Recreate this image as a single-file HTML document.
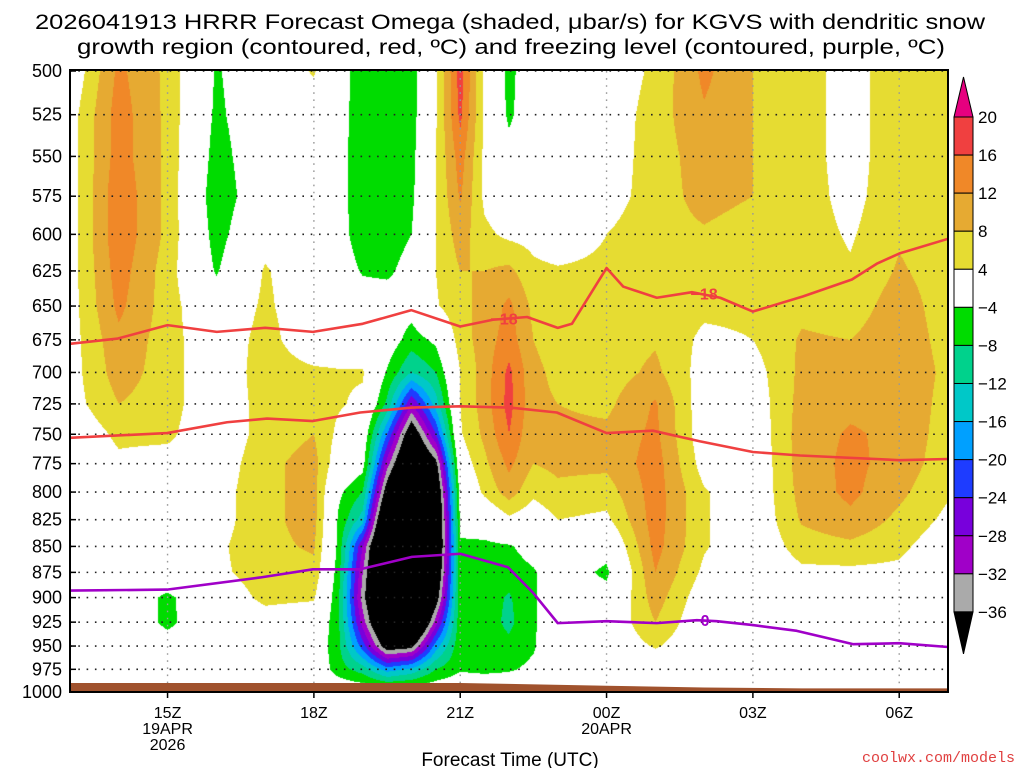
<!DOCTYPE html>
<html><head><meta charset="utf-8"><style>
html,body{margin:0;padding:0;background:#fff;}
#wrap{position:relative;width:1024px;height:768px;overflow:hidden;font-family:"Liberation Sans",sans-serif;}
#cv{position:absolute;left:70px;top:70px;}
#ov{position:absolute;left:0;top:0;}
</style></head><body>
<div id="wrap">
<canvas id="cv" width="878" height="622"></canvas>
<svg id="ov" width="1024" height="768" xmlns="http://www.w3.org/2000/svg">
<g font-family="Liberation Sans, sans-serif" font-size="21" fill="#000">
<text x="510" y="29" text-anchor="middle" textLength="950" lengthAdjust="spacingAndGlyphs">2026041913 HRRR Forecast Omega (shaded, μbar/s) for KGVS with dendritic snow</text>
<text x="511" y="54" text-anchor="middle" textLength="868" lengthAdjust="spacingAndGlyphs">growth region (contoured, red, ºC) and freezing level (contoured, purple, ºC)</text>
</g>
<g id="grid"></g>
<g id="ground"></g>
<g id="lines"></g>
<rect x="70" y="70" width="878" height="622" fill="none" stroke="#000" stroke-width="2"/>
<g id="yaxis" font-size="18" fill="#000"></g>
<g id="xaxis" font-size="16" fill="#000"></g>
<text x="510" y="766" text-anchor="middle" font-size="19">Forecast Time (UTC)</text>
<text x="1015" y="762" text-anchor="end" font-size="15" fill="#e04040" font-family="Liberation Mono, monospace">coolwx.com/models</text>
<g id="cbar" font-size="17"></g>
</svg>
</div>
<script>
// ---- data ----
const levels=[500,525,550,575,600,625,650,675,700,725,750,775,800,825,850,875,900,925,950,975,1000];
const times=[13,14,15,16,17,18,18.5,19,19.5,20,20.5,21,21.5,22,22.5,23,24,25,26,27,28,29,30,31];
const c13=[0,2,2,2,2,2,2,2,2,2,0,0,0,0,0,0,0,0,0,0,0];
const c14=[13,14,14,15,15,14,13,11,10,8,5,3,1,0,0,0,0,0,0,0,0];
const c15=[7,7,7,7,7,6,6,6,6,6,5,2,0,0,0,0,-5,-5,-2,0,0];
const c16=[-4.5,-5,-6,-7,-6,-4.5,-1,0,0,0,0,1,2,2,3,3,1,0,0,0,0];
const c17=[0,0,0,0,2,4.5,5,6,6.5,6,6,7,7,7,7,6,5,2,0,0,0];
const c18=[4.5,1,0,0,0,0,0,0,5,6,8,9.5,9.5,9.5,8.5,7,4.5,1,0,0,0];
const c18h=[-2,-2,-2,-2,-2,-1,0,0,4.5,4.5,3,1,-3,-4.5,-5,-6,-7,-7,-7,-6,0];
const c19=[-6,-6.5,-7,-7,-6.5,-4.5,-1,0,4.5,3,0,-2,-8,-14,-28,-32,-34,-30,-22,-10,0];
const c19h=[-6,-6.5,-7,-7,-6.5,-5,-1,-1,-4.5,-9,-20,-30,-40,-50,-55,-55,-55,-50,-40,-18,0];
const c20=[-6,-6,-5.5,-5,-4,-2,-2,-6,-12,-28,-42,-50,-60,-65,-65,-65,-60,-55,-38,-15,0];
const c20h=[3,3.5,4,4,4,4,3.5,-3,-8,-14,-24,-38,-45,-48,-48,-45,-40,-30,-18,-8,0];
const c21=[18,17,14,12.5,10,8,7,6,4,4,3.5,1,-2,-3,-4.5,-5,-5,-5,-5,-4.5,0];
const c21h=[3,3,3,3,5,8,9,10,10,10,9,7,5,-1,-5,-6,-6,-6,-6,-5,0];
const c22=[-5.5,-5,-2,0,3,9,13,14,17,17.5,16,13,10,3,-4.5,-6,-8.5,-9,-7,-4.5,0];
const c22h=[0,0,0,0.5,2.5,5,7,8,9,9,8.5,8,5,1,-2,-4.5,-4.5,-4.5,-4.5,-3,0];
const c23=[0,0,0,0,1,4.5,6,6,7,8,9,9,7,4,0,-1,-1,-1,0,0,0];
const c24=[0.5,1,1.5,2,4,5,6,6,6,7,9,9,6,3,-2,-5,-2,0,0,0,0];
const c25=[5,6,6,6,6.5,7,7,7.5,9,12.5,13,14,14,14,13.5,12,10,8,4.5,0,0];
const c26=[13,11.5,10,9.5,7.5,6,5,3,2,1,1,2,4.5,4.5,4.5,3,1,0,0,0,0];
const c27=[8,8,8,8,6,6,5,4,2,1,0.5,0,0,0,0,0,0,0,0,0,0];
const c28=[6,6,6,6,6,6,7,8.5,9,9.5,10,10,9.5,8.5,6,3,0,0,0,0,0];
const c29=[2,2,2,2.5,3.5,4.5,6,8,10,11,12.5,13,13,11,7,3,0,0,0,0,0];
const c30=[7,7,7,7,7.5,8.5,10,10.5,11,11,11,10.5,9,7,5,3,0,0,0,0,0];
const c31=[5,5,5,5,5.5,6,6,6.5,7,6.5,6,5.5,4.5,3,1,0,0,0,0,0,0];
const omegaCols=[c13,c14,c15,c16,c17,c18,c18h,c19,c19h,c20,c20h,c21,c21h,c22,c22h,c23,c24,c25,c26,c27,c28,c29,c30,c31];
const cbLevels=[20,16,12,8,4,-4,-8,-12,-16,-20,-24,-28,-32,-36];
const dgzUpperT=[13,13.98,15,16.01,17,17.98,19,20,21,21.67,22.37,23,23.29,24,24.34,25.03,25.75,26.33,27,28.03,29.03,29.54,30,31];
const dgzUpperP=[678,674,664,669,666,669,663,653,665,660,658,666,663,623,636,644,640,644,654,643,631,620,613,603];
const dgzLowerT=[13,14.99,16.22,17.04,17.98,18.95,20.01,21,22.02,22.98,24,24.95,25.92,27,27.97,30,31];
const dgzLowerP=[753,749,740,737,739,732,728,727,728,732,749,747,756,765,768,772,771];
const frzT=[13,14.99,16.9,17.98,18.95,20.01,21,21.98,22.49,23,24,25.03,25.85,26.26,27,27.9,29.05,30,31];
const frzP=[893,892,880,872,872,860,857,870,895,926,924,926,923,924,928,934,948,947,951];
const sfcT=[13,21,22,24,26,28,31];
const sfcP=[990,990,991,993,995,996,996];
const yTicks=[500,525,550,575,600,625,650,675,700,725,750,775,800,825,850,875,900,925,950,975,1000];
const xTickHours=[15,18,21,24,27,30];
const xTickLabels=["15Z","18Z","21Z","00Z","03Z","06Z"];
const xDateLabels={15:["19APR","2026"],24:["20APR"]};

// ---- axes ----
const X0=70,X1=948,Y0=71,Y1=692;
function xOf(h){return X0+(h-13)*(X1-X0)/18;}
function yOf(p){return Y0+(Y1-Y0)*Math.log2(p/500);}
const NS="http://www.w3.org/2000/svg";
function mk(tag,attrs,parent){const e=document.createElementNS(NS,tag);for(const k in attrs)e.setAttribute(k,attrs[k]);parent.appendChild(e);return e;}

const binColors=["#e6007f","#f04040","#f08828","#e6aa32","#e6dc32","#ffffff","#00dc00","#00d28c","#00c8c8","#00a0ff","#1e3cff","#7800dc","#a000c8","#aaaaaa","#000000"];
function colorIdx(v){for(let i=0;i<cbLevels.length;i++){if(v>=cbLevels[i])return i;}return cbLevels.length;}
function hex2rgb(h){return [parseInt(h.substr(1,2),16),parseInt(h.substr(3,2),16),parseInt(h.substr(5,2),16)];}
const rgbs=binColors.map(hex2rgb);

// ---- shading ----
(function(){
const cv=document.getElementById('cv');const ctx=cv.getContext('2d');
const W=cv.width,H=cv.height;const img=ctx.createImageData(W,H);
const lnL=levels.map(Math.log);
for(let py=0;py<H;py++){
  const y=70+py+0.5;const p=500*Math.pow(2,(y-Y0)/(Y1-Y0));const lp=Math.log(Math.min(1000,Math.max(500,p)));
  let i=0;while(i<levels.length-2&&lp>lnL[i+1])i++;
  const ty=Math.min(1,Math.max(0,(lp-lnL[i])/(lnL[i+1]-lnL[i])));
  for(let px=0;px<W;px++){
    const h=13+(px+0.5)*18/W;
    let j=0;while(j<times.length-2&&h>times[j+1])j++;
    const tx=Math.min(1,Math.max(0,(h-times[j])/(times[j+1]-times[j])));
    const a=omegaCols[j],b=omegaCols[j+1];
    const v=(a[i]*(1-tx)+b[i]*tx)*(1-ty)+(a[i+1]*(1-tx)+b[i+1]*tx)*ty;
    const c=rgbs[colorIdx(v)];const k=(py*W+px)*4;
    img.data[k]=c[0];img.data[k+1]=c[1];img.data[k+2]=c[2];img.data[k+3]=255;
  }
}
ctx.putImageData(img,0,0);
})();

// ---- grid ----
const grid=document.getElementById('grid');
yTicks.forEach(p=>{const l=mk('line',{x1:X0,x2:X1,y1:yOf(p),y2:yOf(p),stroke:'#222','stroke-width':1.6,'stroke-dasharray':'1.6,6.7'},grid);

});
xTickHours.forEach(h=>{const l=mk('line',{x1:xOf(h),x2:xOf(h),y1:Y0,y2:Y1,stroke:'#999','stroke-width':1.4,'stroke-dasharray':'1.6,5.5'},grid);

});

// ---- ground ----
(function(){
const g=document.getElementById('ground');
let d='M'+xOf(sfcT[0])+','+Y1;
sfcT.forEach((t,i)=>{d+=' L'+xOf(t)+','+yOf(sfcP[i]);});
d+=' L'+xOf(sfcT[sfcT.length-1])+','+Y1+' Z';
const pth=mk('path',{d:d,fill:'#a0522d'},g);


})();

// ---- contour lines ----
const lg=document.getElementById('lines');
function poly(T,P,color,name){const pts=T.map((t,i)=>xOf(t)+','+yOf(P[i])).join(' ');
const e=mk('polyline',{points:pts,fill:'none',stroke:color,'stroke-width':2.6,'stroke-linejoin':'round'},lg);

}
poly(dgzUpperT,dgzUpperP,'#f04040','dgz-upper-contour');
poly(dgzLowerT,dgzLowerP,'#f04040','dgz-lower-contour');
poly(frzT,frzP,'#a000c8','freezing-level-contour');
function clabel(t,p,txt,color,name){const e=mk('text',{x:xOf(t),y:yOf(p)+6,'text-anchor':'middle','font-size':16,'font-weight':'bold',fill:color},lg);e.textContent=txt;

}
clabel(21.9,659,'−18','#f04040','dgz-label-1');
clabel(26.0,641,'−18','#f04040','dgz-label-2');
clabel(26.02,923,'0','#a000c8','freezing-label');

// ---- y axis ----
const ya=document.getElementById('yaxis');
yTicks.forEach(p=>{const t=mk('text',{x:62,y:yOf(p)+6,'text-anchor':'end'},ya);t.textContent=p;


const tk=mk('line',{x1:X0,x2:X0+6,y1:yOf(p),y2:yOf(p),stroke:'#000','stroke-width':1.5},ya);

});

// ---- x axis ----
const xa=document.getElementById('xaxis');
xTickHours.forEach((h,i)=>{const x=xOf(h);
const tk=mk('line',{x1:x,x2:x,y1:Y1,y2:Y1+6,stroke:'#000','stroke-width':1.5},xa);


const t=mk('text',{x:x,y:718,'text-anchor':'middle'},xa);t.textContent=xTickLabels[i];


(xDateLabels[h]||[]).forEach((s,k)=>{const d=mk('text',{x:x,y:734+k*16,'text-anchor':'middle'},xa);d.textContent=s;

});});

// ---- colorbar ----
(function(){
const cb=document.getElementById('cbar');const bx=954,bw=19,top=117,step=38.07;
const ta=mk('path',{d:`M${bx},${top} L${bx+bw/2},${top-40} L${bx+bw},${top} Z`,fill:binColors[0],stroke:'#000','stroke-width':1},cb);


for(let i=0;i<cbLevels.length-1;i++){const r=mk('rect',{x:bx,y:top+i*step,width:bw,height:step,fill:binColors[i+1],stroke:'#000','stroke-width':1},cb);

}
const yb=top+(cbLevels.length-1)*step;
const ba=mk('path',{d:`M${bx},${yb} L${bx+bw/2},${yb+42} L${bx+bw},${yb} Z`,fill:'#000',stroke:'#000','stroke-width':1},cb);


cbLevels.forEach((v,i)=>{const t=mk('text',{x:978,y:top+i*step+6},cb);t.textContent=(v<0?'−':'')+Math.abs(v);

});
})();
</script>
</body></html>
